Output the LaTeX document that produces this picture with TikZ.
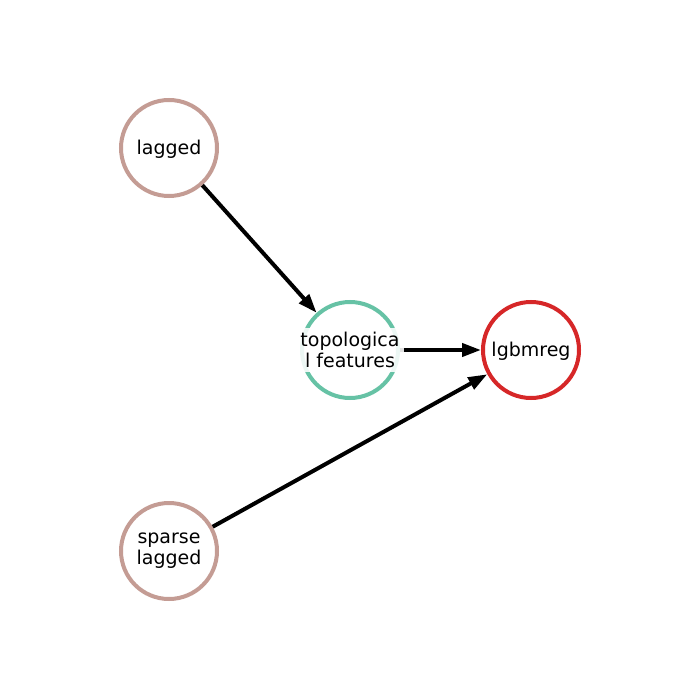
\documentclass[tikz,border=0pt]{standalone}
\usepackage{fontspec}
\setmainfont{DejaVu Sans}
\usetikzlibrary{arrows.meta}
\definecolor{nbrown}{HTML}{C49C94}
\definecolor{ngreen}{HTML}{66C2A5}
\definecolor{nred}{HTML}{D62728}
\tikzset{
  vertex/.style={circle, draw=#1, fill=white, line width=4pt, minimum size=96pt, inner sep=0pt},
  lab/.style={fill=white, fill opacity=0.88, text opacity=1, inner sep=4pt, align=center,
    font=\fontsize{19pt}{21pt}\selectfont},
  conn/.style={line width=4pt, -{Triangle[length=19pt,width=13pt]}}
}
\begin{document}
\begin{tikzpicture}[x=1pt,y=-1pt]
\useasboundingbox (0,0) rectangle (700,700);
\node[vertex=nbrown] (lagged) at (169,148) {};
\node[vertex=ngreen] (topo) at (350,350) {};
\node[vertex=nred] (lgbm) at (531,350) {};
\node[vertex=nbrown] (sparse) at (169,551) {};
\draw[conn] (lagged) -- (topo);
\draw[conn] (topo) -- (lgbm);
\draw[conn] (sparse) -- (lgbm);
\node[lab] (llagged) at ([yshift=-1pt]lagged.center) {lagged};
\node[lab] (ltopo) at (topo) {topologica\\l features};
\node[lab] (llgbm) at ([yshift=-1pt]lgbm.center) {lgbmreg};
\node[lab] (lsparse) at (sparse) {sparse\\lagged};
\end{tikzpicture}
\end{document}
